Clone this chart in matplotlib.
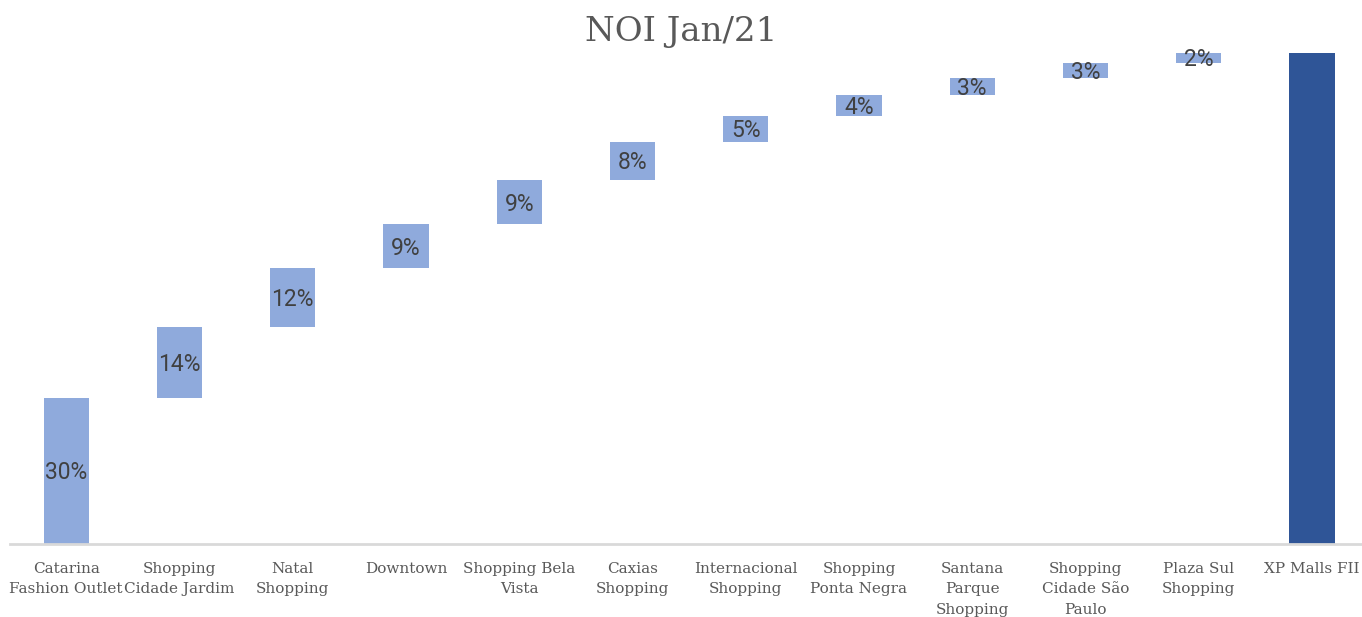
import matplotlib
matplotlib.use("Agg")
import matplotlib.pyplot as plt
import numpy as np

# NOI share per mall (%)
categories = ["Catarina\nFashion Outlet", "Shopping\nCidade Jardim", "Natal\nShopping", "Downtown",
              "Shopping Bela\nVista", "Caxias\nShopping", "Internacional\nShopping", "Shopping\nPonta Negra",
              "Santana\nParque\nShopping", "Shopping\nCidade São\nPaulo", "Plaza Sul\nShopping"]
values = [29.7, 14.4, 12.0, 9.0, 9.0, 7.8, 5.2, 4.4, 3.4, 3.1, 2.0]
total_label = "XP Malls FII"
total_value = 100.0

step_color = "#8FAADC"
total_color = "#2F5597"

vals = np.array(values)
bottoms = np.cumsum(vals) - vals
x = np.arange(len(values))

fig = plt.figure(figsize=(13.62, 6.17), dpi=100)
ax = fig.add_axes([9.6 / 1362, (617 - 543.5) / 617, 1359 / 1362, 490.5 / 617])

ax.bar(x, vals, bottom=bottoms, width=0.4, color=step_color, edgecolor="none")
ax.bar(len(values), total_value, width=0.4, color=total_color, edgecolor="none")

for xi, b, v in zip(x, bottoms, vals):
    ax.text(xi, b + v / 2 - 0.4, f"{v:.0f}%", ha="center", va="center",
            fontsize=16.5, family="Roboto", color="#404040")

ax.set_xlim(-0.5, len(values) + 0.5)
ax.set_ylim(0, total_value)
ax.set_yticks([])
ax.set_xticks(list(x) + [len(values)])
ax.set_xticklabels(categories + [total_label], family="DejaVu Serif", fontsize=11,
                   color="#595959", linespacing=1.6, va="top")
ax.tick_params(axis="x", length=0, pad=13)
for s in ["top", "left", "right"]:
    ax.spines[s].set_visible(False)
ax.spines["bottom"].set_color("#D9D9D9")
ax.spines["bottom"].set_linewidth(2)

fig.text(0.5, 1 - 32 / 617, "NOI Jan/21", ha="center", va="center",
         fontsize=24.5, family="DejaVu Serif", color="#595959")

fig.savefig("out.png", dpi=100)
